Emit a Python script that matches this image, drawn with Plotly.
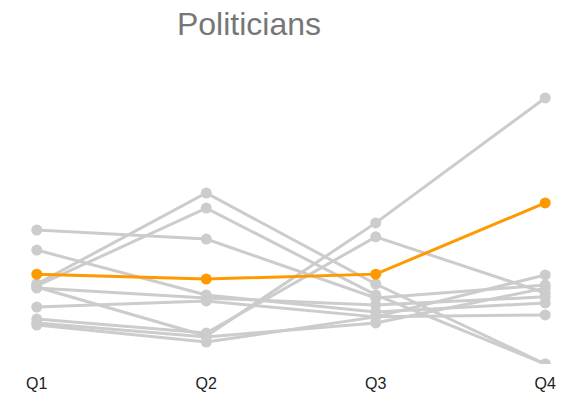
import plotly.graph_objects as go

quarters = ["Q1", "Q2", "Q3", "Q4"]

# Scores per politician across the four quarters (grey = others, orange = highlighted)
others = [
    [48.9, 45.6, 24.1, 28.8],
    [41.6, 25.2, 19.0, 22.3],
    [29.2, 62.4, 29.2, 0.0],
    [28.5, 56.9, 25.2, 0.0],
    [27.7, 24.1, 21.5, 24.5],
    [28.1, 10.2, 51.5, 97.1],
    [20.8, 23.0, 17.2, 17.9],
    [16.4, 11.3, 46.4, 25.9],
    [15.0, 9.9, 15.0, 27.7],
    [14.2, 8.0, 17.2, 32.5],
]
highlight = [32.8, 31.0, 32.8, 58.8]

GREY = "#cccccc"
ORANGE = "#ff9900"

fig = go.Figure()
for series in others:
    fig.add_trace(go.Scatter(
        x=quarters, y=series, mode="lines+markers",
        line=dict(color=GREY, width=3),
        marker=dict(color=GREY, size=11),
        showlegend=False, hoverinfo="skip",
    ))
fig.add_trace(go.Scatter(
    x=quarters, y=highlight, mode="lines+markers",
    line=dict(color=ORANGE, width=3),
    marker=dict(color=ORANGE, size=11),
    showlegend=False,
))

fig.update_layout(
    width=564, height=404,
    margin=dict(l=30, r=8, t=90, b=40),
    paper_bgcolor="white", plot_bgcolor="white",
    font=dict(family="Liberation Sans, Arial, sans-serif"),
    title=dict(
        text="Politicians", x=249 / 564, xanchor="center",
        y=1 - 24 / 404, yanchor="middle", yref="container",
        font=dict(size=32, color="#767676"),
    ),
    xaxis=dict(
        type="category", range=[-0.04, 3.04],
        showgrid=False, zeroline=False, showline=False, ticks="",
        ticklabelstandoff=8,
        tickfont=dict(size=16, color="#222222"),
    ),
    yaxis=dict(
        range=[0, 100], visible=False, showgrid=False, zeroline=False,
    ),
)

fig.write_html("out.html")
